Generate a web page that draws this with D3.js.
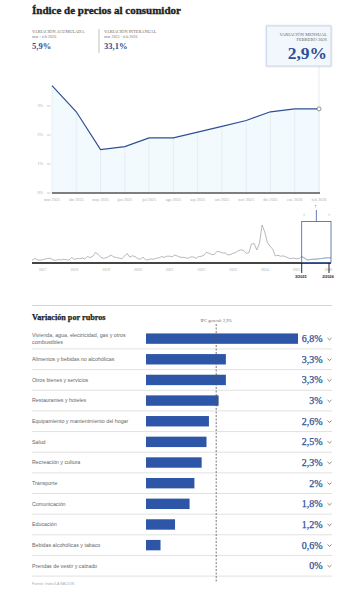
<!DOCTYPE html>
<html><head><meta charset="utf-8">
<script src="https://cdn.jsdelivr.net/npm/d3@7"></script>
<style>
html,body{margin:0;padding:0;background:#fff;}
svg{display:block;}
</style></head>
<body>
<svg id="c" width="357" height="600"></svg>
<script>
// ---------- DATA ----------
const months = ["mar 2025","abr 2025","may 2025","jun 2025","jul 2025","ago 2025","sep 2025","oct 2025","nov 2025","dic 2025","ene 2026","feb 2026"];
const monthly = [3.7,2.8,1.5,1.6,1.9,1.9,2.1,2.3,2.5,2.8,2.9,2.9];
const yTicks = [0,1,2,3];

const histStart = [2016, 8]; // Sep 2016 (month index 8)
const history = [
  1.1,2.4,1.6,1.2,
  1.6,2.1,2.4,2.6,1.4,1.2,1.7,1.4,1.9,1.5,1.4,3.1,
  1.8,2.4,2.3,2.7,2.1,3.7,3.1,3.9,6.5,5.4,3.2,2.6,
  2.9,3.8,4.7,3.4,3.1,2.7,2.2,4.0,5.9,3.3,4.3,3.7,
  2.3,2.0,3.3,1.5,1.5,2.2,1.9,2.7,2.8,3.8,3.2,4.0,
  4.0,3.6,4.8,4.1,3.3,3.2,3.0,2.5,3.5,3.5,2.5,3.8,
  3.9,4.7,6.7,6.0,5.1,5.3,7.4,7.0,6.2,6.3,4.9,5.1,
  6.0,6.6,7.7,8.4,7.8,6.0,6.3,12.4,12.7,8.3,12.8,25.5,
  20.6,13.2,11.0,8.8,4.2,4.6,4.0,4.2,3.5,2.7,2.4,2.7,
  2.2,2.4,3.7,2.8,1.5,1.6,1.9,1.9,2.1,2.3,2.5,2.8,
  2.9,2.9
];
const yearTicks = [2017,2018,2019,2020,2021,2022,2023,2024,2025,2026];
const brushLabels = ["3/2025","2/2026"];

const title = "Índice de precios al consumidor";
const statLabels = ["VARIACIÓN ACUMULADA","VARIACIÓN INTERANUAL"];
const statPeriods = ["mar - feb 2026","mar 2025 - feb 2026"];
const statValues = ["5,9%","33,1%"];
const boxLines = ["VARIACIÓN MENSUAL","FEBRERO 2026"];
const boxValue = "2,9%";

const rubros = ["Vivienda, agua, electricidad, gas y otros combustibles","Alimentos y bebidas no alcohólicas","Otros bienes y servicios","Restaurantes y hoteles","Equipamiento y mantenimiento del hogar","Salud","Recreación y cultura","Transporte","Comunicación","Educación","Bebidas alcohólicas y tabaco","Prendas de vestir y calzado"];
const rubroValues = [6.8,3.3,3.3,3.0,2.6,2.5,2.3,2.0,1.8,1.2,0.6,0.0];
const general = 2.9;
const sectionTitle = "Variación por rubros";
const generalLabel = "IPC general: 2,9%";
const source = "Fuente: Indec/LA NACION";

// ---------- DRAW ----------
const svg = d3.select("#c");
const serif = "'Liberation Serif', 'DejaVu Serif', serif";
const sans = "'Liberation Sans', Arial, sans-serif";
const blue = "#2f4f94";
const barBlue = "#2d55a8";
const fmt = v => (Math.round(v*10)/10).toString().replace(".", ",") + "%";

svg.append("text").attr("x",32).attr("y",14).text(title)
  .attr("font-family",serif).attr("font-weight","bold").attr("font-size",11)
  .attr("fill","#1e1e1e").attr("stroke","#1e1e1e").attr("stroke-width",0.35);

// stats
[32,104].forEach((x,i)=>{
  svg.append("text").attr("x",x).attr("y",33).text(statLabels[i]).attr("font-family",serif).attr("font-size",4.3).attr("fill","#666");
  svg.append("text").attr("x",x).attr("y",38).text(statPeriods[i]).attr("font-family",serif).attr("font-size",4.1).attr("fill","#777");
  svg.append("text").attr("x",x).attr("y",48.5).text(statValues[i]).attr("font-family",serif).attr("font-weight","bold").attr("font-size",8.5).attr("fill",blue);
});
svg.append("line").attr("x1",99).attr("x2",99).attr("y1",29).attr("y2",53).attr("stroke","#999").attr("stroke-width",0.6);

// top chart
const x = d3.scalePoint().domain(months).range([52,319]);
const y = d3.scaleLinear().domain([0,3]).range([193,106]);
const pts = months.map((m,i)=>({m, v: monthly[i]}));

// connector line from box
svg.append("line").attr("x1",319).attr("x2",319).attr("y1",66).attr("y2",193).attr("stroke","#dfe5ec").attr("stroke-width",0.8);

svg.append("path").datum(pts)
  .attr("d", d3.area().x(d=>x(d.m)).y0(y(0)).y1(d=>y(d.v)))
  .attr("fill","#f3fafd");
svg.selectAll(".vg").data(pts).join("line")
  .attr("x1",d=>x(d.m)).attr("x2",d=>x(d.m)).attr("y1",d=>y(d.v)).attr("y2",y(0))
  .attr("stroke","#dde5ee").attr("stroke-width",0.6);
svg.append("path").datum(pts)
  .attr("d", d3.line().x(d=>x(d.m)).y(d=>y(d.v)))
  .attr("fill","none").attr("stroke",blue).attr("stroke-width",1.2);
svg.append("line").attr("x1",52).attr("x2",320).attr("y1",y(0)).attr("y2",y(0)).attr("stroke","#555").attr("stroke-width",1.3);
svg.append("circle").attr("cx",x(months[months.length-1])).attr("cy",y(monthly[monthly.length-1])).attr("r",2)
  .attr("fill","#fff").attr("stroke","#666").attr("stroke-width",0.7);

const yAxisG = svg.append("g");
yTicks.forEach(t=>{
  yAxisG.append("text").attr("x",43).attr("y",y(t)+1.4).attr("text-anchor","end").text(t+"%")
    .attr("font-family",serif).attr("font-size",4.2).attr("fill","#aaa");
  yAxisG.append("line").attr("x1",47).attr("x2",50.5).attr("y1",y(t)).attr("y2",y(t)).attr("stroke","#aaa").attr("stroke-width",0.6);
});
months.forEach(m=>{
  svg.append("text").attr("x",x(m)).attr("y",200.5).attr("text-anchor","middle").text(m)
    .attr("font-family",serif).attr("font-size",4.2).attr("fill","#aaa");
});
// small up arrow
svg.append("text").attr("x",315.5).attr("y",208).attr("text-anchor","middle").text("↑")
  .attr("font-family",sans).attr("font-size",5).attr("fill","#5a6f99");

// box
svg.append("rect").attr("x",266.5).attr("y",26).attr("width",64.5).attr("height",40)
  .attr("fill","#f2f7fd").attr("stroke","#c5d3e6").attr("stroke-width",0.8)
  .style("filter","drop-shadow(0px 0.5px 1px rgba(0,0,0,0.18))");
svg.append("text").attr("x",327).attr("y",35.5).attr("text-anchor","end").text(boxLines[0]).attr("font-family",serif).attr("font-size",4.5).attr("fill","#666");
svg.append("text").attr("x",327).attr("y",40.5).attr("text-anchor","end").text(boxLines[1]).attr("font-family",serif).attr("font-size",4.5).attr("fill","#666");
svg.append("text").attr("x",327).attr("y",58.5).attr("text-anchor","end").text(boxValue).attr("font-family",serif).attr("font-weight","bold").attr("font-size",17.5).attr("fill",blue);

// mini chart
const hist = history.map((v,i)=>({d:new Date(histStart[0], histStart[1]+i, 1), v}));
const tx = d3.scaleTime().domain([hist[0].d, hist[hist.length-1].d]).range([32,331]);
const ty = d3.scaleLinear().domain([0,25.5]).range([262,225]);
svg.append("path").datum(hist)
  .attr("d", d3.line().x(d=>tx(d.d)).y(d=>ty(d.v)))
  .attr("fill","none").attr("stroke","#8a8a8a").attr("stroke-width",0.6);
const bStart = new Date(2025,2,1), bEnd = new Date(2026,1,1);
svg.append("path").datum(hist.filter(d=>d.d>=bStart))
  .attr("d", d3.line().x(d=>tx(d.d)).y(d=>ty(d.v)))
  .attr("fill","none").attr("stroke","#6f8cc4").attr("stroke-width",0.9);
svg.append("line").attr("x1",32).attr("x2",331).attr("y1",263).attr("y2",263).attr("stroke","#444").attr("stroke-width",1.8);
yearTicks.forEach(yr=>{
  svg.append("text").attr("x",tx(new Date(yr,0,1))).attr("y",271).attr("text-anchor","middle").text(yr)
    .attr("font-family",serif).attr("font-size",3.8).attr("fill","#aaa");
});
const bx0 = tx(bStart), bx1 = tx(bEnd);
svg.append("rect").attr("x",bx0).attr("y",221.5).attr("width",bx1-bx0).attr("height",41)
  .attr("fill","rgba(255,255,255,0.25)").attr("stroke","#3f5f9f").attr("stroke-width",0.8);
svg.append("line").attr("x1",(bx0+bx1)/2).attr("x2",(bx0+bx1)/2).attr("y1",210).attr("y2",221.5).attr("stroke","#3f5f9f").attr("stroke-width",0.8);
svg.append("text").attr("x",bx0+2.5).attr("y",216).attr("text-anchor","middle").text("‹").attr("font-family",sans).attr("font-size",5).attr("fill","#aaa");
svg.append("text").attr("x",bx1-2).attr("y",216).attr("text-anchor","middle").text("›").attr("font-family",sans).attr("font-size",5).attr("fill","#aaa");
[[bx0,brushLabels[0]],[bx1-2,brushLabels[1]]].forEach(([bx,l])=>{
  svg.append("line").attr("x1",bx).attr("x2",bx).attr("y1",263).attr("y2",273).attr("stroke","#111").attr("stroke-width",0.9);
  svg.append("text").attr("x",bx-1).attr("y",278).attr("text-anchor","middle").text(l)
    .attr("font-family",sans).attr("font-weight","bold").attr("font-size",3.8).attr("fill","#222");
});

// separator
svg.append("line").attr("x1",32).attr("x2",332).attr("y1",305.5).attr("y2",305.5).attr("stroke","#ccc").attr("stroke-width",0.8);
svg.append("text").attr("x",32).attr("y",320).text(sectionTitle)
  .attr("font-family",serif).attr("font-weight","bold").attr("font-size",8.2)
  .attr("fill","#1e1e1e").attr("stroke","#1e1e1e").attr("stroke-width",0.25);

// bars
const band = d3.scaleBand().domain(rubros).range([328.3, 576.1]).paddingInner(0);
const bx = d3.scaleLinear().domain([0,6.28]).range([146,298]).clamp(true);
const rows = svg.selectAll(".row").data(rubros.map((r,i)=>({r,v:rubroValues[i]}))).join("g");
rows.append("line").attr("x1",32).attr("x2",332).attr("y1",d=>band(d.r)+band.bandwidth()).attr("y2",d=>band(d.r)+band.bandwidth())
  .attr("stroke","#d4d4d4").attr("stroke-width",0.7);
rows.append("rect").attr("x",bx(0)).attr("y",d=>band(d.r)+band.bandwidth()/2-5.2).attr("height",10.4)
  .attr("width",d=>bx(d.v)-bx(0)).attr("fill",barBlue);
rows.each(function(d){
  const g = d3.select(this);
  const cy = band(d.r)+band.bandwidth()/2;
  const words = d.r.length>45 ? ["Vivienda, agua, electricidad, gas y otros","combustibles"] : [d.r];
  const t = g.append("text").attr("font-family",sans).attr("font-size",5.3).attr("fill","#666");
  words.forEach((w,k)=>{
    t.append("tspan").attr("x",32).attr("y",cy+1.9+(k-(words.length-1)/2)*6.2).text(w);
  });
  g.append("text").attr("x",322.5).attr("y",cy+3.4).attr("text-anchor","end").text(fmt(d.v))
    .attr("font-family",serif).attr("font-size",10).attr("fill",blue).attr("stroke",blue).attr("stroke-width",0.25);
  g.append("path").attr("d",`M${327.5},${cy-0.6} L${329.5},${cy+1.2} L${331.5},${cy-0.6}`)
    .attr("fill","none").attr("stroke","#555").attr("stroke-width",0.7);
});
svg.append("line").attr("x1",bx(general)).attr("x2",bx(general)).attr("y1",324).attr("y2",582)
  .attr("stroke","#555").attr("stroke-width",0.8).attr("stroke-dasharray","2,1.5");
svg.append("text").attr("x",bx(general)).attr("y",321.5).attr("text-anchor","middle").text(generalLabel)
  .attr("font-family",serif).attr("font-size",4.3).attr("fill","#666");
svg.append("text").attr("x",32).attr("y",584.5).text(source)
  .attr("font-family",sans).attr("font-size",3.6).attr("fill","#aaa");
</script>
</body></html>
